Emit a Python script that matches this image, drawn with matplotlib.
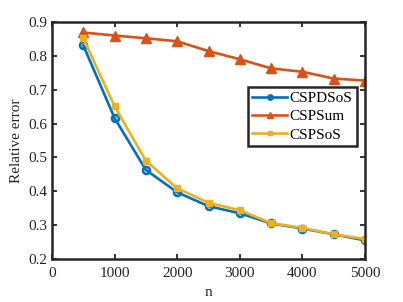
import numpy as np
import matplotlib
matplotlib.use("Agg")
import matplotlib.pyplot as plt

# Data
n = [500, 1000, 1500, 2000, 2500, 3000, 3500, 4000, 4500, 5000]
cspdsos = [0.831, 0.616, 0.463, 0.397, 0.356, 0.335, 0.305, 0.290, 0.273, 0.255]
cspsum = [0.869, 0.860, 0.852, 0.843, 0.814, 0.790, 0.763, 0.753, 0.733, 0.727]
cspsos = [0.852, 0.651, 0.490, 0.409, 0.366, 0.344, 0.306, 0.292, 0.273, 0.259]

xticks = [0, 1000, 2000, 3000, 4000, 5000]
yticks = [0.2, 0.3, 0.4, 0.5, 0.6, 0.7, 0.8, 0.9]

plt.rcParams["font.family"] = ["Liberation Serif", "DejaVu Serif"]

fig = plt.figure(figsize=(4.03, 3.02), dpi=100)
ax = fig.add_axes([52 / 403, 1 - 259 / 302, 313 / 403, 237 / 302])

ax.plot(n, cspdsos, color="#0072BD", lw=1.9, marker="o", ms=5,
        mfc="none", mew=1.9, label="CSPDSoS")
ax.plot(n, cspsum, color="#D95319", lw=1.9, marker="^", ms=6.5,
        label="CSPSum")
ax.plot(n, cspsos, color="#EDB120", lw=1.9, marker="s", ms=5,
        label="CSPSoS")

ax.set_xlim(0, 5000)
ax.set_ylim(0.2, 0.9)
ax.set_xticks(xticks)
ax.set_yticks(yticks)
ax.set_yticklabels([f"{v:.1f}" for v in yticks])
ax.tick_params(direction="in", top=True, right=True, length=3.5, width=1.3,
               labelsize=11, colors="#262626")
ax.tick_params(axis="x", pad=6)
ax.tick_params(axis="y", pad=3)
for spine in ax.spines.values():
    spine.set_linewidth(1.8)
    spine.set_color("#262626")

ax.set_xlabel("n", fontsize=11, color="#262626", labelpad=4)
ax.set_ylabel("Relative error", fontsize=11, color="#262626", labelpad=4)

leg = ax.legend(loc="upper right", bbox_to_anchor=(0.974, 0.726), fontsize=11,
                fancybox=False, framealpha=1, edgecolor="#262626",
                borderpad=0.3, labelspacing=0.3, handlelength=2.3,
                handletextpad=0.15, borderaxespad=0, markerscale=0.6)
leg.get_frame().set_linewidth(1.8)

fig.savefig("out.png", dpi=100, facecolor="white")
